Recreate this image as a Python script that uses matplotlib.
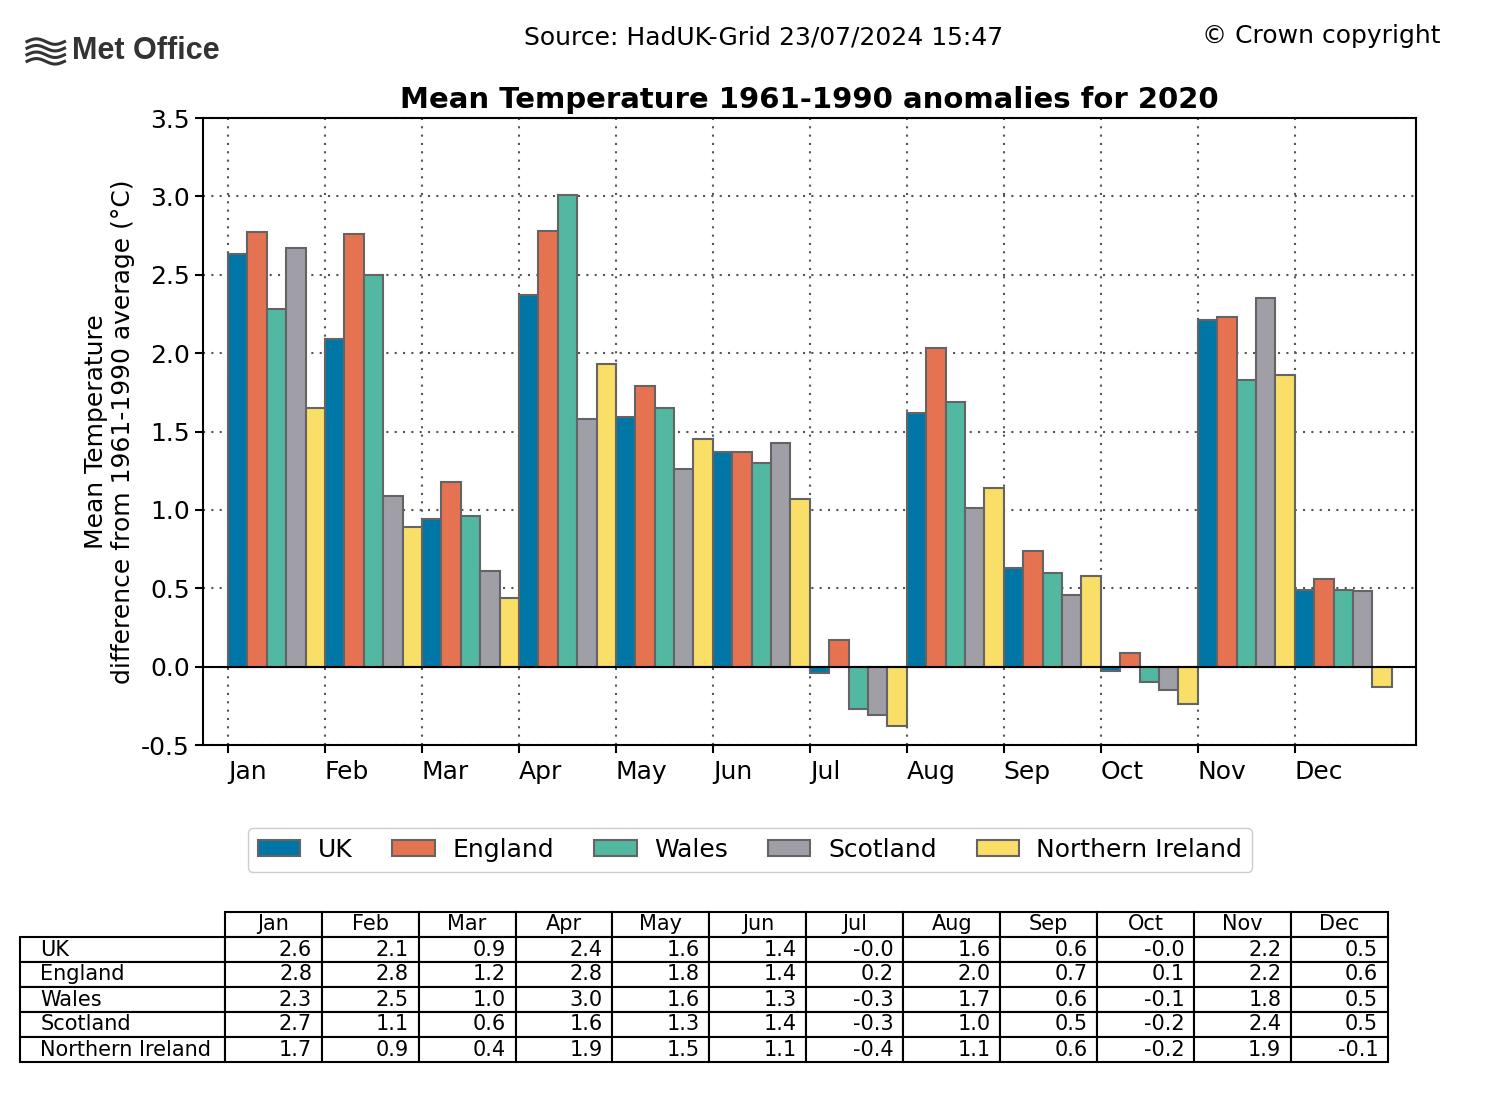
import numpy as np
import matplotlib
matplotlib.use("Agg")
import matplotlib.pyplot as plt
from matplotlib.patches import Patch

plt.rcParams["axes.unicode_minus"] = False

months = ["Jan", "Feb", "Mar", "Apr", "May", "Jun",
          "Jul", "Aug", "Sep", "Oct", "Nov", "Dec"]
regions = ["UK", "England", "Wales", "Scotland", "Northern Ireland"]
colours = ["#0076a6", "#e57352", "#52b8a2", "#a09fa8", "#f9de67"]

# anomalies
uk = [2.63, 2.09, 0.94, 2.37, 1.59, 1.37, -0.04, 1.62, 0.63, -0.03, 2.21, 0.49]
england = [2.77, 2.76, 1.18, 2.78, 1.79, 1.37, 0.17, 2.03, 0.74, 0.09, 2.23, 0.56]
wales = [2.28, 2.50, 0.96, 3.01, 1.65, 1.30, -0.27, 1.69, 0.60, -0.10, 1.83, 0.49]
scotland = [2.67, 1.09, 0.61, 1.58, 1.26, 1.43, -0.31, 1.01, 0.46, -0.15, 2.35, 0.48]
n_ireland = [1.65, 0.89, 0.44, 1.93, 1.45, 1.07, -0.38, 1.14, 0.58, -0.24, 1.86, -0.13]

# table values as printed
tab_uk = ["2.6", "2.1", "0.9", "2.4", "1.6", "1.4", "-0.0", "1.6", "0.6", "-0.0", "2.2", "0.5"]
tab_england = ["2.8", "2.8", "1.2", "2.8", "1.8", "1.4", "0.2", "2.0", "0.7", "0.1", "2.2", "0.6"]
tab_wales = ["2.3", "2.5", "1.0", "3.0", "1.6", "1.3", "-0.3", "1.7", "0.6", "-0.1", "1.8", "0.5"]
tab_scotland = ["2.7", "1.1", "0.6", "1.6", "1.3", "1.4", "-0.3", "1.0", "0.5", "-0.2", "2.4", "0.5"]
tab_ni = ["1.7", "0.9", "0.4", "1.9", "1.5", "1.1", "-0.4", "1.1", "0.6", "-0.2", "1.9", "-0.1"]

series = [uk, england, wales, scotland, n_ireland]
table_rows = [tab_uk, tab_england, tab_wales, tab_scotland, tab_ni]

fig = plt.figure(figsize=(15, 10.95), dpi=100)
ax = fig.add_axes([0.1353, 0.3196, 0.8087, 0.5726])

x = np.arange(len(months))
w = 0.2
for i, vals in enumerate(series):
    ax.bar(x + i * w, vals, w, align="edge", color=colours[i],
           edgecolor="#646464", linewidth=1.5, zorder=3)

ax.axhline(0, color="black", linewidth=1.5, zorder=4)
ax.set_xlim(-0.258, 12.25)
ax.set_ylim(-0.5, 3.5)
ax.set_yticks(np.arange(-0.5, 3.51, 0.5))
ax.set_xticks(x)
ax.set_xticklabels(months, ha="left")
ax.tick_params(labelsize=18, length=6, width=1.5)
ax.tick_params(axis="x", pad=5)
ax.grid(True, linestyle=(0, (1, 3)), color="#555555", linewidth=1.5, zorder=0)
for s in ax.spines.values():
    s.set_linewidth(1.5)
ax.set_ylabel("Mean Temperature\ndifference from 1961-1990 average (\u00b0C)", fontsize=18)
ax.set_title("Mean Temperature 1961-1990 anomalies for 2020", fontsize=21,
             fontweight="bold", pad=7)

handles = [Patch(facecolor=c, edgecolor="#646464", linewidth=1.5) for c in colours]
fig.legend(handles, regions, loc="center", bbox_to_anchor=(0.5, 0.224), ncol=5,
           fontsize=18, handlelength=1.7, handleheight=0.6, handletextpad=0.7,
           columnspacing=1.6, framealpha=1, edgecolor="#cccccc", fancybox=True,
           borderpad=0.4)

fig.text(0.5093, 0.966, "Source: HadUK-Grid 23/07/2024 15:47", fontsize=18,
         ha="center", va="center")
fig.text(0.881, 0.967, "\u00a9 Crown copyright", fontsize=18, ha="center", va="center")

# logo
fig.text(0.048, 0.953, "Met Office", fontsize=22, fontweight="bold",
         color="#333333", ha="left", va="center", family="Liberation Sans")
t = np.linspace(0, 1, 60)
for k in range(4):
    xs = 0.018 + 0.025 * t
    ys = 0.962 - k * 0.006 + 0.0025 * np.sin(2 * np.pi * t)
    fig.add_artist(plt.Line2D(xs, ys, color="#333333", linewidth=2.2,
                              transform=fig.transFigure))

# data table (bbox only covers the grid part, row labels sit to its left)
tax = fig.add_axes([20 / 1500, 1 - 1062 / 1095, 1368 / 1500, 150 / 1095])
tax.axis("off")
label_w = 205 / 1368
col_w = 97 / 1368
tbl = tax.table(cellText=table_rows, rowLabels=regions, colLabels=months,
                colWidths=[col_w] * 12, cellLoc="right", rowLoc="left",
                colLoc="center", bbox=[label_w, 0, 1 - label_w, 1])
tbl.auto_set_font_size(False)
tbl.set_fontsize(15)
tbl._autoColumns = []
for (r, c), cell in tbl.get_celld().items():
    cell.set_linewidth(1.5)
    cell.set_height(1 / 6)
    if c == -1:
        cell.set_width(label_w)
        cell.PAD = 0.1

fig.savefig("out.png", dpi=100)
